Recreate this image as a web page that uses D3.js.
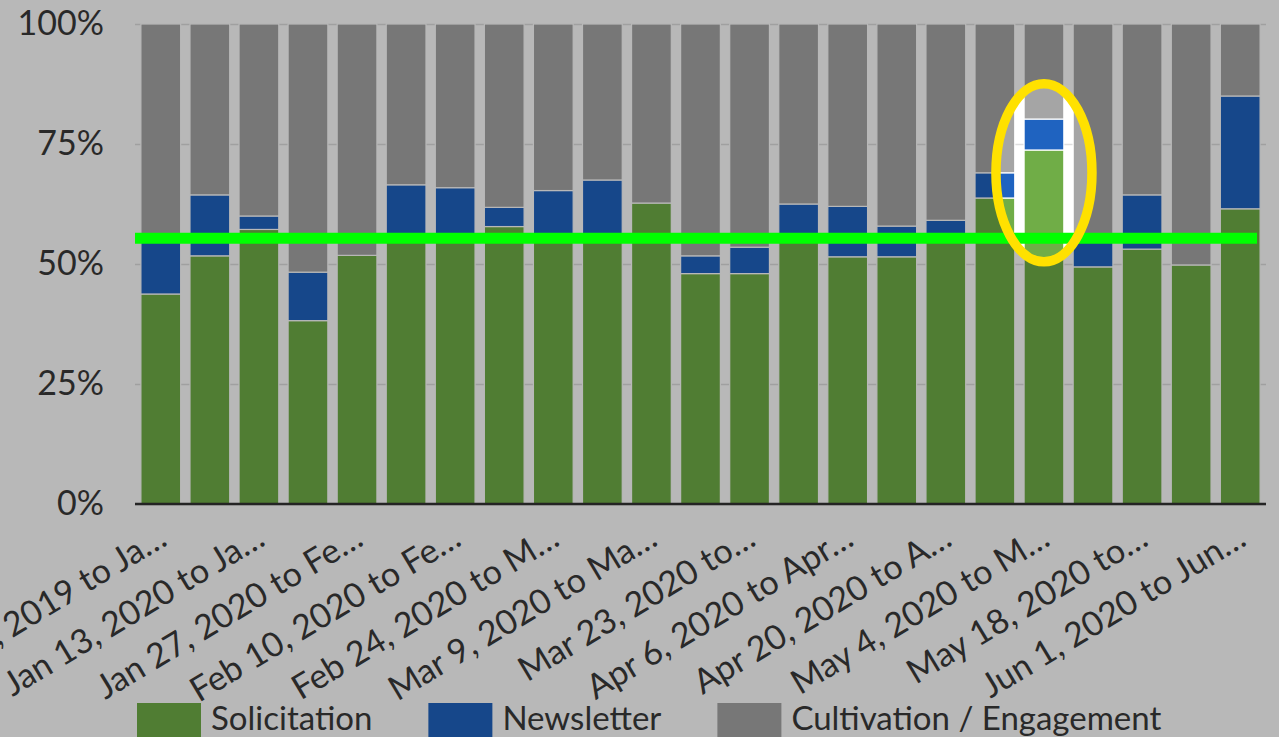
<!DOCTYPE html>
<html>
<head>
<meta charset="utf-8">
<script src="https://cdn.jsdelivr.net/npm/d3@7"></script>
<style>
  html, body { margin: 0; padding: 0; background: #ffffff; }
  svg { display: block; font-family: Lato, "Open Sans", sans-serif; }
</style>
</head>
<body>
<svg id="chart" width="1279" height="737"></svg>
<script>
// Weekly email mix, share of sends by type (percent of each week)
const categories = [
  "Dec 30, 2019 to Jan 5, 2020", "Jan 6, 2020 to Jan 12, 2020", "Jan 13, 2020 to Jan 19, 2020",
  "Jan 20, 2020 to Jan 26, 2020", "Jan 27, 2020 to Feb 2, 2020", "Feb 3, 2020 to Feb 9, 2020",
  "Feb 10, 2020 to Feb 16, 2020", "Feb 17, 2020 to Feb 23, 2020", "Feb 24, 2020 to Mar 1, 2020",
  "Mar 2, 2020 to Mar 8, 2020", "Mar 9, 2020 to Mar 15, 2020", "Mar 16, 2020 to Mar 22, 2020",
  "Mar 23, 2020 to Mar 29, 2020", "Mar 30, 2020 to Apr 5, 2020", "Apr 6, 2020 to Apr 12, 2020",
  "Apr 13, 2020 to Apr 19, 2020", "Apr 20, 2020 to Apr 26, 2020", "Apr 27, 2020 to May 3, 2020",
  "May 4, 2020 to May 10, 2020", "May 11, 2020 to May 17, 2020", "May 18, 2020 to May 24, 2020",
  "May 25, 2020 to May 31, 2020", "Jun 1, 2020 to Jun 7, 2020"
];
const solicitation = [43.75, 51.7, 57.2, 38.2, 51.8, 55.5, 55.0, 57.8, 55.8, 55.2, 62.7, 48.0,
                      48.0, 56.3, 51.5, 51.5, 56.0, 63.75, 73.75, 49.4, 53.1, 49.8, 61.5];
const newsletter   = [11.35, 12.7, 2.8, 10.1, 0, 11.0, 10.9, 4.0, 9.5, 12.3, 0, 3.7,
                      5.5, 6.2, 10.5, 6.4, 3.1, 5.25, 6.45, 5.2, 11.3, 0, 23.5];
const cultivation  = [44.9, 35.6, 40.0, 51.7, 48.2, 33.5, 34.1, 38.2, 34.7, 32.5, 37.3, 48.3,
                      46.5, 37.5, 38.0, 42.1, 40.9, 31.0, 19.8, 45.4, 35.6, 50.2, 15.0];

const seriesNames = ["Solicitation", "Newsletter", "Cultivation / Engagement"];
const seriesColors = ["#70ad47", "#1f63c0", "#a5a5a5"];

// every other week is labelled on the axis, truncated
const tickIndex  = [0, 2, 4, 6, 8, 10, 12, 14, 16, 18, 20, 22];
const tickLabels = ["Dec 30, 2019 to Ja…", "Jan 13, 2020 to Ja…", "Jan 27, 2020 to Fe…",
                    "Feb 10, 2020 to Fe…", "Feb 24, 2020 to M…", "Mar 9, 2020 to Ma…",
                    "Mar 23, 2020 to…", "Apr 6, 2020 to Apr…", "Apr 20, 2020 to A…",
                    "May 4, 2020 to M…", "May 18, 2020 to…", "Jun 1, 2020 to Jun…"];
const yTicks = [0, 0.25, 0.5, 0.75, 1];

// annotations: benchmark share and the highlighted week
const benchmarkShare = 0.5535;
const highlightWeek = 18;
const highlightCenterShare = 0.69;

const W = 1279, H = 737;
const plot = { left: 135, right: 1266, top: 24, bottom: 504 };

const svg = d3.select("#chart");
const defs = svg.append("defs");

const rows = categories.map((c, i) => ({
  week: c,
  "Solicitation": solicitation[i],
  "Newsletter": newsletter[i],
  "Cultivation / Engagement": cultivation[i]
}));

const stack = d3.stack().keys(seriesNames).offset(d3.stackOffsetExpand);
const layers = stack(rows);

const x = d3.scaleBand().domain(categories).range([plot.left + 1, plot.right - 1])
  .paddingInner(0.19).paddingOuter(0.1);
const y = d3.scaleLinear().domain([0, 1]).range([plot.bottom, plot.top]);
const color = d3.scaleOrdinal().domain(seriesNames).range(seriesColors);

const chart = svg.append("g");
chart.append("rect").attr("width", W).attr("height", H).attr("fill", "#ffffff");

// gridlines
chart.append("g")
  .attr("transform", `translate(${plot.left},0)`)
  .call(d3.axisLeft(y).tickValues(yTicks).tickSize(-(plot.right - plot.left)).tickFormat(""))
  .call(g => g.select(".domain").remove())
  .call(g => g.selectAll("line").attr("stroke", "#dedede").attr("stroke-width", 1.5));

// y tick labels
chart.append("g")
  .attr("transform", `translate(${plot.left},0)`)
  .call(d3.axisLeft(y).tickValues(yTicks).tickSize(0).tickPadding(31).tickFormat(d3.format(".0%")))
  .call(g => g.select(".domain").remove())
  .call(g => g.selectAll("text").attr("fill", "#3a3a3a").style("font-size", "34px")
    .style("font-family", "Lato, sans-serif"));

// stacked bars
chart.append("g").selectAll("g")
  .data(layers)
  .join("g")
  .attr("fill", d => color(d.key))
  .selectAll("rect")
  .data(d => d)
  .join("rect")
  .attr("x", d => x(d.data.week))
  .attr("width", x.bandwidth())
  .attr("y", d => y(d[1]))
  .attr("height", d => Math.max(0, y(d[0]) - y(d[1])))
  .attr("stroke", "#ffffff")
  .attr("stroke-width", 1.2);

// x axis
const xAxis = chart.append("g")
  .attr("transform", `translate(0,${plot.bottom})`)
  .call(d3.axisBottom(x)
    .tickValues(tickIndex.map(i => categories[i]))
    .tickSize(0).tickSizeOuter(0)
    .tickFormat(d => tickLabels[tickIndex.indexOf(categories.indexOf(d))]));
xAxis.select(".domain").attr("stroke", "#333333").attr("stroke-width", 2.5)
  .attr("d", `M${plot.left},0H${plot.right}`);
xAxis.selectAll("text")
  .attr("fill", "#3a3a3a")
  .style("font-size", "34px")
  .style("font-family", "Lato, sans-serif")
  .attr("text-anchor", "end")
  .attr("y", 0).attr("dy", 0)
  .attr("transform", "translate(8,40) rotate(-31)");

// legend
const legend = chart.append("g").attr("transform", "translate(137,703)");
let lx = 0;
seriesNames.forEach((name, i) => {
  const item = legend.append("g").attr("transform", `translate(${lx},0)`);
  item.append("rect").attr("width", 64).attr("height", 34).attr("fill", color(name));
  const t = item.append("text").attr("x", 74).attr("y", 27)
    .attr("fill", "#3a3a3a").style("font-size", "33px").text(name);
  lx += 74 + t.node().getComputedTextLength() + 56;
});

// dimmed overlay with a spotlight on the highlighted week
const hx = x(categories[highlightWeek]) + x.bandwidth() / 2;
const hy = y(highlightCenterShare);
const rx = 48, ry = 89;
const mask = defs.append("mask").attr("id", "spotlight");
mask.append("rect").attr("width", W).attr("height", H).attr("fill", "#fff");
mask.append("ellipse").attr("cx", hx).attr("cy", hy).attr("rx", rx).attr("ry", ry).attr("fill", "#000");
svg.append("rect").attr("width", W).attr("height", H)
  .attr("fill", "#000").attr("fill-opacity", 0.278).attr("mask", "url(#spotlight)");

// benchmark line
svg.append("line")
  .attr("x1", plot.left).attr("x2", plot.right - 9)
  .attr("y1", y(benchmarkShare)).attr("y2", y(benchmarkShare))
  .attr("stroke", "#00ff00").attr("stroke-width", 11);

// highlight ring
svg.append("ellipse")
  .attr("cx", hx).attr("cy", hy).attr("rx", rx).attr("ry", ry)
  .attr("fill", "none").attr("stroke", "#ffe100").attr("stroke-width", 9.5);
</script>
</body>
</html>
